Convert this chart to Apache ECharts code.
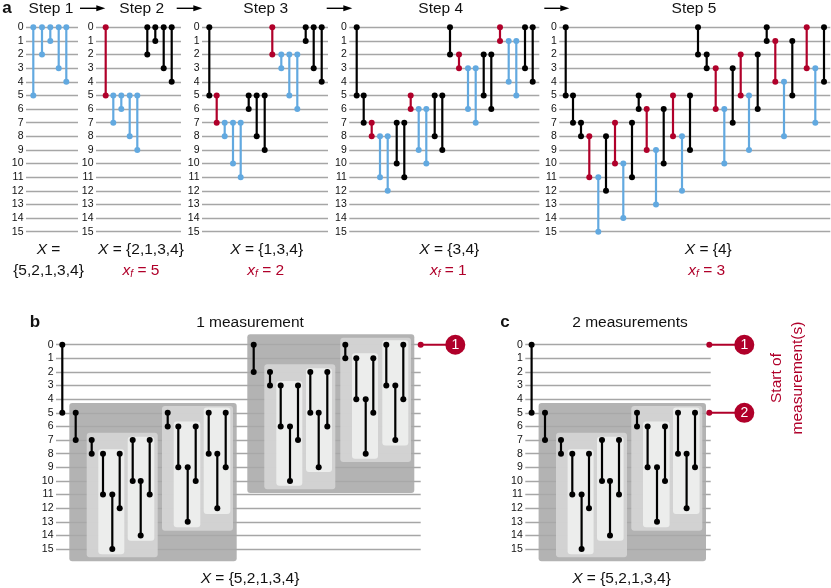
<!DOCTYPE html>
<html>
<head>
<meta charset="utf-8">
<script src="https://cdn.jsdelivr.net/npm/echarts@6/dist/echarts.min.js"></script>
<style>
  html, body { margin: 0; padding: 0; background: #fff; }
  #chart { width: 831px; height: 588px; }
</style>
</head>
<body>
<div id="chart"></div>
<script>
// gate = [position along the wires, first row, last row, role]
const rows = [0, 15];
const step1Gates = [[7.3,0,5,'open'],[16,0,2,'open'],[24.3,0,1,'open'],[32.7,0,3,'open'],[40.3,0,4,'open']];
const step2Gates = [[9.7,0,5,'fixed'],[17.3,5,7,'open'],[25.3,5,6,'open'],[33.7,5,8,'open'],[41.3,5,9,'open'],
  [51.3,0,2,'done'],[59.3,0,1,'done'],[67.7,0,3,'done'],[75.7,0,4,'done']];
const step3Gates = [[7.3,0,5,'done'],[14.7,5,7,'fixed'],[22.7,7,8,'open'],[31,7,10,'open'],[38.7,7,11,'open'],
  [46.7,5,6,'done'],[54.7,5,8,'done'],[62.7,5,9,'done'],[70.3,0,2,'fixed'],[79.3,2,3,'open'],[87.3,2,5,'open'],
  [95.3,2,6,'open'],[103.7,0,1,'done'],[111.7,0,3,'done'],[119.7,0,4,'done']];
const step4Gates = [[7.4,0,5,'done'],[14.4,5,7,'done'],[22.4,7,8,'fixed'],[30.7,8,11,'open'],[38.4,8,12,'open'],
  [47.4,7,10,'done'],[55,7,11,'done'],[61.4,5,6,'fixed'],[69.4,6,9,'open'],[77,6,10,'open'],[85.4,5,8,'done'],
  [93,5,9,'done'],[100.7,0,2,'done'],[109.7,2,3,'fixed'],[118.7,3,6,'open'],[126.4,3,7,'open'],[134.4,2,5,'done'],
  [142,2,6,'done'],[150.7,0,1,'fixed'],[159.4,1,4,'open'],[167,1,5,'open'],[175.7,0,3,'done'],[183.4,0,4,'done']];
const step5Gates = [[6.4,0,5,'done'],[13.7,5,7,'done'],[21.7,7,8,'done'],[30,8,11,'fixed'],[39,11,15,'open'],
  [46.7,8,12,'done'],[55.7,7,10,'fixed'],[64,10,14,'open'],[72.7,7,11,'done'],[79.4,5,6,'done'],[87.4,6,9,'fixed'],
  [96.7,9,13,'open'],[104.4,6,10,'done'],[113.7,5,8,'fixed'],[122.7,8,12,'open'],[130.7,5,9,'done'],[138.7,0,2,'done'],
  [147.4,2,3,'done'],[156.4,3,6,'fixed'],[165,6,10,'open'],[173.4,3,7,'done'],[181.4,2,5,'fixed'],[189.7,5,9,'open'],
  [198.4,2,6,'done'],[207.4,0,1,'done'],[216,1,4,'fixed'],[224.7,4,8,'open'],[233,1,5,'done'],[247.4,0,3,'fixed'],
  [256,3,7,'open'],[264.7,0,4,'done']];
const lowerGates = [[6.3,0,5,'done'],[19.7,5,7,'done'],[35.7,7,8,'done'],[47,8,11,'done'],[56.3,11,15,'done'],
  [63.7,8,12,'done'],[76.7,7,10,'done'],[84.7,10,14,'done'],[93.7,7,11,'done'],[111.7,5,6,'done'],[122.3,6,9,'done'],
  [131.7,9,13,'done'],[139.7,6,10,'done'],[152.7,5,8,'done'],[161.3,8,12,'done'],[169.7,5,9,'done']];
const upperGates = [[197.7,0,2,'done'],[214,2,3,'done'],[224.7,3,6,'done'],[234,6,10,'done'],[242,3,7,'done'],
  [254.3,2,5,'done'],[262.7,5,9,'done'],[271.3,2,6,'done'],[289.3,0,1,'done'],[300.3,1,4,'done'],[309.7,4,8,'done'],
  [317.3,1,5,'done'],[330.3,0,3,'done'],[339.3,3,7,'done'],[347.3,0,4,'done']];

// box = [from, to, top row, bottom row, nesting level]
const lowerBoxes = [[13.3,180.7,4.28,15.9,0],[30.7,101.7,6.46,15.6,1],[42.3,68.3,7.68,15.37,2],[71.7,98.3,6.75,14.39,2],
  [106,177,4.5,13.65,1],[117.7,144.3,5.63,13.39,2],[147.7,174.3,4.6,12.43,2]];
const upperBoxes = [[191.3,358.3,-0.76,10.88,0],[208.3,279.3,1.44,10.6,1],[220.3,246.3,2.67,10.35,2],[250,276,1.73,9.35,2],
  [284.3,355,-0.51,8.61,1],[296,322,0.63,8.37,2],[326.3,352.3,-0.32,7.39,2]];

// marker = [row, start of line, badge centre, label]
const oneMeasurement = [[0,364.7,399.3,'1']];
const twoMeasurements = [[0,184,219,'1'],[5,184,219,'2']];

const FONT = '"Liberation Sans", Arial, sans-serif';
const BLACK = '#000000', BLUE = '#62a9e0', RED = '#b0002a', TEXT = '#111111';
const roleColor = { open: BLUE, fixed: RED, done: BLACK };
const boxFill = ['#a8a8a8', '#d6d6d6', '#eff0ef'];

const panels = [
  { left: 26, top: 27.3, len: 52, gates: step1Gates },
  { left: 96, top: 27.3, len: 85, gates: step2Gates },
  { left: 202, top: 27.3, len: 126, gates: step3Gates },
  { left: 349.3, top: 27.3, len: 190, gates: step4Gates },
  { left: 559.3, top: 27.3, len: 271, gates: step5Gates },
  { left: 56, top: 344.7, len: 364.7, gates: lowerGates.concat(upperGates), boxes: lowerBoxes.concat(upperBoxes), marks: oneMeasurement },
  { left: 525.3, top: 344.7, len: 185.4, gates: lowerGates, boxes: lowerBoxes, marks: twoMeasurements }
];

function gateItem(gates) {
  return function (params, api) {
    const a = api.coord([api.value(0), api.value(1)]);
    const b = api.coord([api.value(0), api.value(2)]);
    const color = roleColor[gates[params.dataIndex][3]];
    return {
      type: 'group',
      children: [
        { type: 'line', shape: { x1: a[0], y1: a[1], x2: b[0], y2: b[1] }, style: { stroke: color, lineWidth: 2.2 } },
        { type: 'circle', shape: { cx: a[0], cy: a[1], r: 3 }, style: { fill: color } },
        { type: 'circle', shape: { cx: b[0], cy: b[1], r: 3 }, style: { fill: color } }
      ]
    };
  };
}

function boxItem(params, api) {
  const p = api.coord([api.value(0), api.value(2)]);
  const q = api.coord([api.value(1), api.value(3)]);
  return {
    type: 'rect',
    shape: { x: p[0], y: p[1], width: q[0] - p[0], height: q[1] - p[1], r: 3 },
    style: { fill: boxFill[api.value(4)], opacity: 0.88 }
  };
}

function markItem(marks) {
  return function (params, api) {
    const a = api.coord([api.value(1), api.value(0)]);
    const b = api.coord([api.value(2), api.value(0)]);
    return {
      type: 'group',
      children: [
        { type: 'line', shape: { x1: a[0], y1: a[1], x2: b[0], y2: b[1] }, style: { stroke: RED, lineWidth: 2 } },
        { type: 'circle', shape: { cx: a[0], cy: a[1], r: 3 }, style: { fill: RED } },
        { type: 'circle', shape: { cx: b[0], cy: b[1], r: 10 }, style: { fill: RED } },
        { type: 'text', style: { x: b[0], y: b[1], text: marks[params.dataIndex][3], fill: '#fff', fontSize: 14,
          fontFamily: FONT, align: 'center', verticalAlign: 'middle' } }
      ]
    };
  };
}

const grids = [], xAxes = [], yAxes = [], series = [];
panels.forEach(function (p, i) {
  grids.push({ left: p.left, top: p.top, width: p.len, height: 204.4 });
  xAxes.push({ gridIndex: i, type: 'value', min: 0, max: p.len, show: false });
  yAxes.push({
    gridIndex: i, type: 'value', inverse: true, min: rows[0], max: rows[1], interval: 1,
    axisLine: { show: false }, axisTick: { show: false },
    axisLabel: { margin: 2.5, fontSize: 10.5, fontFamily: FONT, color: TEXT, showMinLabel: true, showMaxLabel: true },
    splitLine: { show: true, lineStyle: { color: '#a6a6a6', width: 1.3 } }
  });
  if (p.boxes) {
    series.push({ type: 'custom', xAxisIndex: i, yAxisIndex: i, z: 1, clip: false, silent: true,
      encode: { x: [0, 1], y: [2, 3] }, data: p.boxes, renderItem: boxItem });
  }
  series.push({ type: 'custom', xAxisIndex: i, yAxisIndex: i, z: 3, clip: false, silent: true,
    encode: { x: 0, y: [1, 2] }, data: p.gates.map(g => g.slice(0, 3)), renderItem: gateItem(p.gates) });
  if (p.marks) {
    series.push({ type: 'custom', xAxisIndex: i, yAxisIndex: i, z: 3, clip: false, silent: true,
      encode: { x: [1, 2], y: 0 }, data: p.marks.map(m => m.slice(0, 3)), renderItem: markItem(p.marks) });
  }
});

const richText = {
  i: { fontStyle: 'italic', fontSize: 15.5, fontFamily: FONT },
  r: { fontStyle: 'italic', fontSize: 15.5, fontFamily: FONT, fill: RED },
  sub: { fontStyle: 'italic', fontSize: 10, fontFamily: FONT, fill: RED, padding: [7, 0, 0, 0] },
  n: { fontSize: 15.5, fontFamily: FONT, fill: RED }
};

function label(x, y, text, extra) {
  return {
    type: 'text', x: x, y: y, silent: true,
    style: Object.assign({ text: text, fontSize: 15.5, fontFamily: FONT, fill: TEXT, align: 'center',
      verticalAlign: 'middle', rich: richText }, extra || {})
  };
}

function arrow(x1, x2, y) {
  return [
    { type: 'line', silent: true, shape: { x1: x1, y1: y, x2: x2 - 6, y2: y }, style: { stroke: '#000', lineWidth: 1.4 } },
    { type: 'polygon', silent: true, shape: { points: [[x2, y], [x2 - 9, y - 3], [x2 - 9, y + 3]] }, style: { fill: '#000' } }
  ];
}

const bold = { fontWeight: 'bold', fontSize: 17 };
const graphics = [
  label(7, 8, 'a', bold), label(35, 322, 'b', bold), label(505, 322, 'c', bold),
  label(51, 9, 'Step 1'), label(141.7, 9, 'Step 2'), label(265.7, 9, 'Step 3'), label(440.7, 9, 'Step 4'), label(694, 9, 'Step 5'),
  label(48.5, 250, '{i|X} ='), label(48.5, 271, '{5,2,1,3,4}'),
  label(141, 250, '{i|X} = {2,1,3,4}'), label(141, 271, '{r|x}{sub|f}{n| = 5}'),
  label(266.7, 250, '{i|X} = {1,3,4}'), label(265.7, 271, '{r|x}{sub|f}{n| = 2}'),
  label(449.3, 250, '{i|X} = {3,4}'), label(448.3, 271, '{r|x}{sub|f}{n| = 1}'),
  label(708.3, 250, '{i|X} = {4}'), label(706.7, 271, '{r|x}{sub|f}{n| = 3}'),
  label(250, 323, '1 measurement'), label(630, 323, '2 measurements'),
  label(250, 578.5, '{i|X} = {5,2,1,3,4}'), label(621.5, 578.5, '{i|X} = {5,2,1,3,4}'),
  Object.assign(label(787.5, 378, 'Start of\nmeasurement(s)', { fill: RED, lineHeight: 21 }), { rotation: Math.PI / 2 })
].concat(arrow(80, 105.3, 8.3), arrow(176.7, 202.3, 8.3), arrow(326.7, 352.3, 8.3), arrow(544.3, 569.3, 8.3));

const chart = echarts.init(document.getElementById('chart'));
chart.setOption({
  animation: false,
  backgroundColor: '#fff',
  grid: grids,
  xAxis: xAxes,
  yAxis: yAxes,
  series: series,
  graphic: { elements: graphics }
});
</script>
</body>
</html>
